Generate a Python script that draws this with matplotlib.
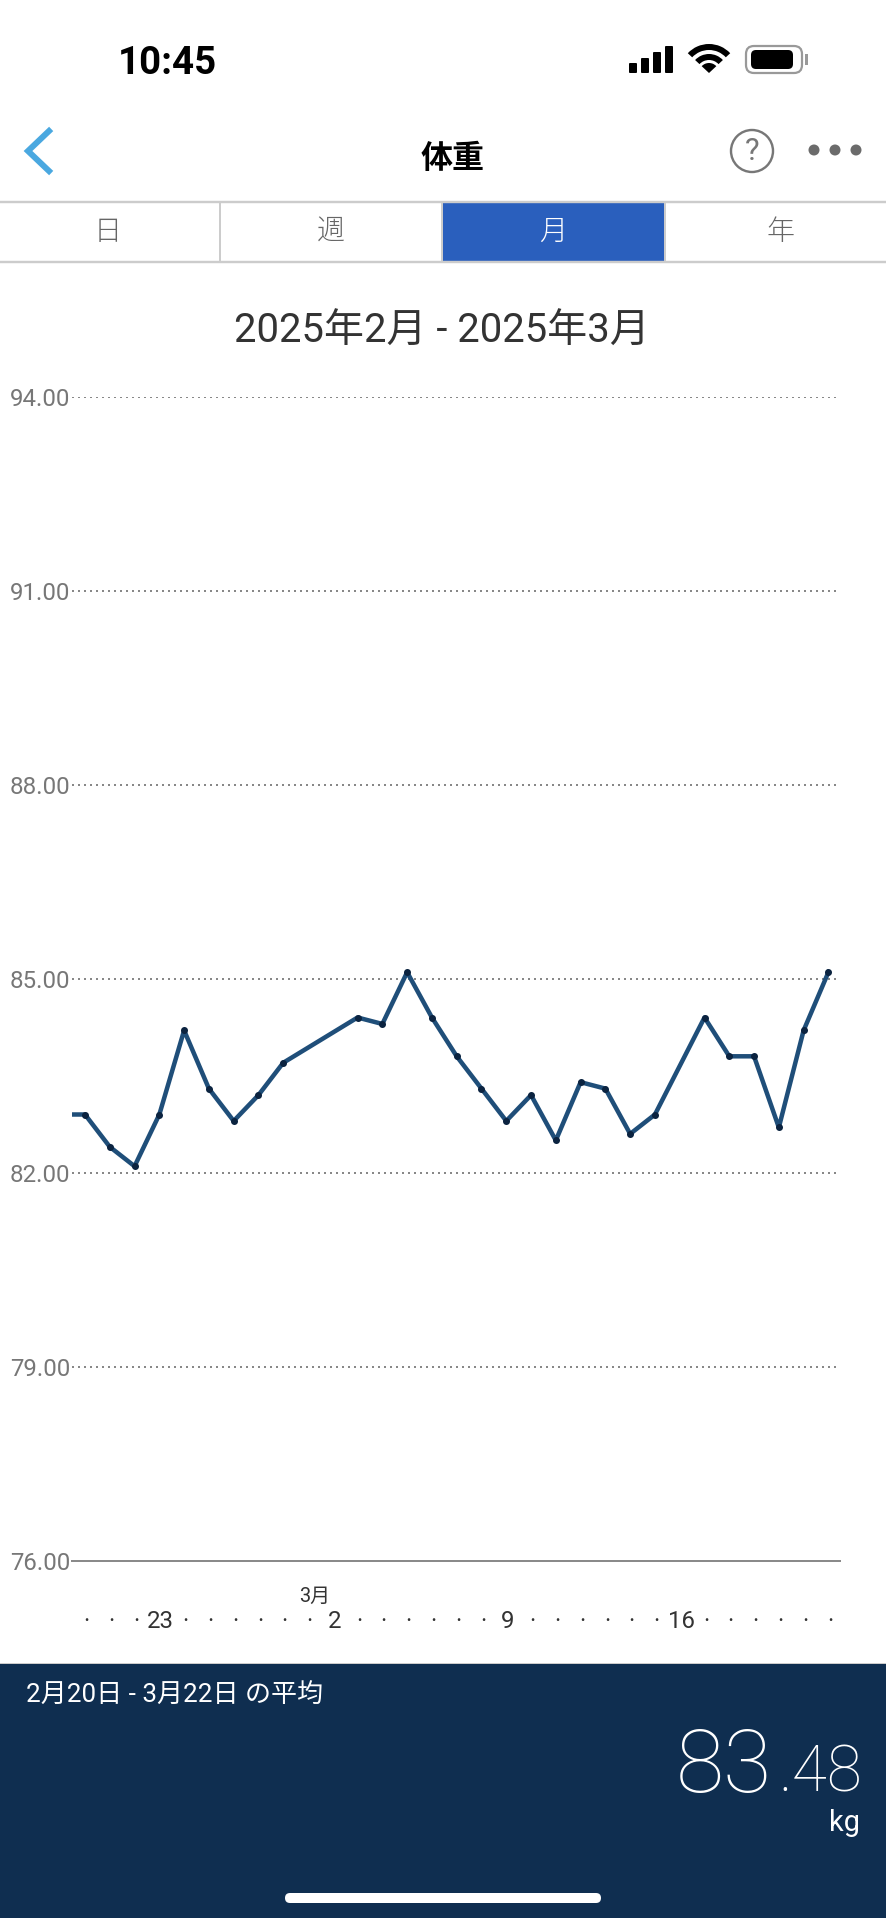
import matplotlib
matplotlib.use('Agg')
import matplotlib.pyplot as plt
from matplotlib.patches import Rectangle, FancyBboxPatch, Wedge, Circle
from matplotlib.transforms import ScaledTranslation

# ---- data ----
days = [-1, 0, 1, 2, 3, 4, 5, 6, 7, 8, 11, 12, 13, 14, 15, 16, 17, 18, 19, 20, 21, 22, 23, 25, 26, 27, 28, 29, 30]
weights = [82.9, 82.9, 82.4, 82.1, 82.9, 84.2, 83.3, 82.8, 83.2, 83.7, 84.4, 84.3, 85.1, 84.4, 83.8, 83.3, 82.8,
           83.2, 82.5, 83.4, 83.3, 82.6, 82.9, 84.4, 83.8, 83.8, 82.7, 84.2, 85.1]
y_ticks = [76, 79, 82, 85, 88, 91, 94]
x_ticks = list(range(0, 31))
x_named = {3: '23', 10: '2', 17: '9', 24: '16'}
tabs = ['日', '週', '月', '年']
tab_centers = [108, 331, 553, 781]
title = '2025年2月 - 2025年3月'
period = '2月20日 - 3月22日 の平均'
avg_int, avg_dec = '83', '.48'

W, H = 886, 1920
FF = ['Roboto', 'Noto Sans CJK JP']
px = 72 / 100  # pt per pixel
fig = plt.figure(figsize=(W / 100, H / 100), dpi=100, facecolor='white')

# ---- UI layer in pixel coordinates ----
ui = fig.add_axes([0, 0, 1, 1])
ui.set_xlim(0, W); ui.set_ylim(H, 0); ui.axis('off')

def T(x, y, s, size, color='#333333', ha='center', va='center', weight='normal', fam=FF, **k):
    return ui.text(x, y, s, fontsize=size * px, color=color, ha=ha, va=va, fontweight=weight, family=fam, **k)

# status bar
T(118, 63, '10:45', 38.5, '#000000', ha='left', weight='bold')
for x0, h in zip([629, 641, 653, 665], [10, 15, 21, 27]):
    ui.add_patch(FancyBboxPatch((x0 + 1, 73 - h + 1), 6, h - 2, boxstyle='round,pad=1', fc='black', ec='none'))
for r, w in [(29, 6), (19, 6)]:
    ui.add_patch(Wedge((709, 73), r, 223, 317, width=w, fc='black', ec='none'))
ui.add_patch(Wedge((709, 73), 10, 223, 317, fc='black', ec='none'))
ui.add_patch(FancyBboxPatch((749, 49), 50, 21, boxstyle='round,pad=3,rounding_size=8', fc='white', ec='#999999', lw=1.6))
ui.add_patch(FancyBboxPatch((752, 51), 40, 17, boxstyle='round,pad=1,rounding_size=5', fc='black', ec='none'))
ui.add_patch(Rectangle((805, 54), 3, 11, fc='#999999', ec='none'))

# nav bar
ui.plot([49, 28, 49], [131, 151, 171], color='#4AA8E0', lw=6 * px, solid_joinstyle='miter')
T(453, 159, '体重', 32, '#000000', weight='bold')
ui.add_patch(Circle((752, 151), 21, fc='none', ec='#777777', lw=2.4 * px))
T(752, 152, '?', 31, '#777777')
for x0 in [814, 835, 856]:
    ui.add_patch(Circle((x0, 150), 5.5, fc='#6b6b6b', ec='none'))

# tabs
ui.add_patch(Rectangle((443, 203), 221, 58, fc='#2A5FBD', ec='none'))
for yy in [202, 262]:
    ui.plot([0, W], [yy, yy], color='#CCCCCC', lw=2.4 * px)
for x0 in [220, 442, 665]:
    ui.plot([x0, x0], [202, 262], color='#CCCCCC', lw=2 * px)
for s, cx in zip(tabs, tab_centers):
    T(cx, 232, s, 28, 'white' if s == '月' else '#666666', weight='light')

T(442, 331, title, 40, '#333333')

# bottom panel
ui.add_patch(Rectangle((0, 1663), W, 255, fc='#0F2E50', ec='none'))
ui.plot([0, W], [1663, 1663], color='#CCCCCC', lw=1 * px)
T(26, 1696, period, 26, 'white', ha='left')
T(772, 1792, avg_int, 88, 'white', ha='right', va='baseline', weight=100)
T(862, 1792, avg_dec, 64, 'white', ha='right', va='baseline', weight=100)
T(860, 1823, 'kg', 29, 'white', ha='right')
ui.add_patch(FancyBboxPatch((285, 1893), 316, 10, boxstyle='round,pad=0,rounding_size=5', fc='white', ec='none'))
T(315, 1596, '3月', 20, '#333333')

# ---- chart ----
L, R = 72, 840
Y94, Y76 = 396.7, 1560.7
ax = fig.add_axes([L / W, 1 - Y76 / H, (R - L) / W, (Y76 - Y94) / H])
ax.patch.set_alpha(0)
step = 24.78
ax.set_xlim((L - 85) / step, (R - 85) / step)
ax.set_ylim(76, 94)
ax.plot(days, weights, color='#1F4E79', lw=4.5 * px, solid_joinstyle='round', zorder=3)
ax.plot(days[1:], weights[1:], ls='none', marker='o', ms=7 * px, mfc='#0B2340', mec='none', zorder=4, clip_on=False)

ax.set_yticks(y_ticks)
ax.set_yticklabels([f'{v:.2f}' for v in y_ticks], fontsize=24 * px, color='#777777', family=FF)
ax.set_xticks(x_ticks)
ax.set_xticklabels([x_named.get(d, '·') for d in x_ticks], fontsize=24 * px, color='#333333', family=FF)
ax.tick_params(axis='y', length=0, pad=1)
ax.tick_params(axis='x', length=0, pad=(1610 - Y76) * px)
for lab in ax.get_xticklabels():
    lab.set_transform(lab.get_transform() + ScaledTranslation(1.5 / 100, 0, fig.dpi_scale_trans))
ax.grid(axis='y', color='#888888', lw=2 * px, dashes=(1, 2), zorder=1)
ax.grid(axis='x', visible=False)
for s in ['top', 'left', 'right']:
    ax.spines[s].set_visible(False)
ax.spines['bottom'].set_color('#8A8A8A')
ax.spines['bottom'].set_linewidth(2 * px)
ax.spines['bottom'].set_zorder(2)

fig.savefig('out.png', dpi=100, facecolor='white')
